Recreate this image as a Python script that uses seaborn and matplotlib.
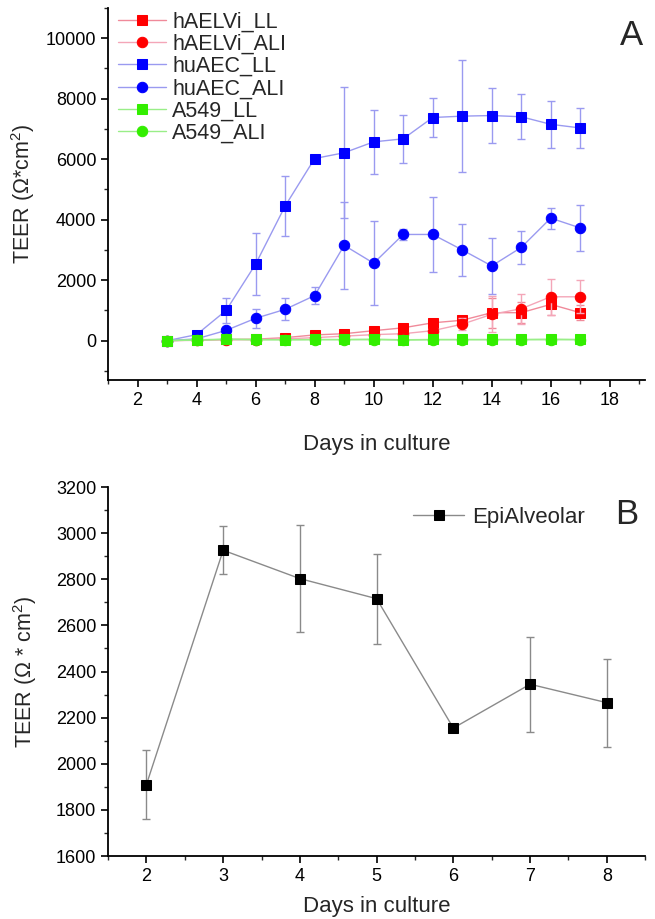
import numpy as np
import pandas as pd
import matplotlib
matplotlib.use("Agg")
import matplotlib.pyplot as plt
import seaborn as sns
from matplotlib.ticker import MultipleLocator

# Panel A data (days 3..17)
days_a = list(range(3, 18))
haelvi_ll = [0, 20, 40, 50, 100, 190, 230, 330, 425, 590, 675, 925, 925, 1200, 925]
haelvi_ll_err = [0, 20, 30, 30, 40, 50, 60, 60, 80, 100, 150, 500, 350, 350, 250]
haelvi_ali = [0, 10, 30, 30, 60, 100, 150, 200, 230, 330, 545, 870, 1055, 1450, 1450]
haelvi_ali_err = [0, 10, 20, 20, 30, 40, 50, 60, 70, 100, 200, 600, 500, 600, 540]
huaec_ll = [0, 200, 1000, 2530, 4450, 6020, 6210, 6570, 6670, 7375, 7420, 7440, 7400, 7150, 7030]
huaec_ll_err = [0, 50, 400, 1030, 1000, 100, 2160, 1050, 800, 660, 1850, 900, 750, 770, 650]
huaec_ali = [0, 60, 340, 740, 1035, 1490, 3150, 2560, 3510, 3510, 3000, 2470, 3080, 4050, 3725]
huaec_ali_err = [0, 30, 100, 310, 360, 280, 1430, 1390, 190, 1230, 870, 920, 550, 345, 760]
a549_ll = [0, 30, 50, 40, 30, 40, 40, 50, 30, 40, 40, 40, 40, 50, 40]
a549_ll_err = [0, 10, 10, 10, 10, 10, 10, 10, 10, 10, 10, 10, 10, 10, 10]
a549_ali = [0, 20, 40, 30, 30, 30, 30, 30, 20, 30, 30, 30, 30, 30, 30]
a549_ali_err = [0, 10, 10, 10, 10, 10, 10, 10, 10, 10, 10, 10, 10, 10, 10]

# Panel B data
days_b = [2, 3, 4, 5, 6, 7, 8]
epi = [1910, 2926, 2803, 2716, 2155, 2345, 2265]
epi_err = [150, 105, 233, 195, 10, 205, 190]

sns.set_style("ticks")
plt.rcParams['font.family'] = ['Liberation Sans', 'DejaVu Sans']
plt.rcParams['mathtext.fontset'] = 'custom'
plt.rcParams['mathtext.rm'] = 'Liberation Sans'
plt.rcParams['mathtext.it'] = 'Liberation Sans'

fig = plt.figure(figsize=(6.55, 9.19), dpi=100)
ax1 = fig.add_axes([0.165, 0.5865, 0.82, 0.405])
ax2 = fig.add_axes([0.165, 0.0685, 0.82, 0.4015])

series = [
    ("hAELVi_LL", haelvi_ll, haelvi_ll_err, "s", "#ff0000", "#f08a9a"),
    ("hAELVi_ALI", haelvi_ali, haelvi_ali_err, "o", "#ff0000", "#f4a6b8"),
    ("huAEC_LL", huaec_ll, huaec_ll_err, "s", "#0000ff", "#9a9af0"),
    ("huAEC_ALI", huaec_ali, huaec_ali_err, "o", "#0000ff", "#9a9af0"),
    ("A549_LL", a549_ll, a549_ll_err, "s", "#33ee00", "#99ee88"),
    ("A549_ALI", a549_ali, a549_ali_err, "o", "#33ee00", "#99ee88"),
]

for name, vals, errs, mk, mc, lc in series:
    df = pd.DataFrame({"day": days_a, "teer": vals})
    ax1.errorbar(days_a, vals, yerr=errs, fmt="none", ecolor=lc, elinewidth=1.0,
                 capsize=3, capthick=1.0)
    sns.lineplot(data=df, x="day", y="teer", ax=ax1, color=lc, lw=1.0, marker=mk,
                 markersize=7 if mk == "s" else 7.5, markerfacecolor=mc,
                 markeredgecolor=mc, label=name)

ax1.set_xlim(1, 19.2)
ax1.set_ylim(-1300, 11000)
ax1.xaxis.set_major_locator(MultipleLocator(2))
ax1.xaxis.set_minor_locator(MultipleLocator(1))
ax1.yaxis.set_major_locator(MultipleLocator(2000))
ax1.yaxis.set_minor_locator(MultipleLocator(1000))
ax1.set_xlabel("Days in culture", fontsize=16, labelpad=18)
ax1.set_ylabel(r"TEER ($\Omega$*cm$^2$)", fontsize=15.5, labelpad=6)
ax1.legend(loc="upper left", bbox_to_anchor=(-0.005, 1.025), frameon=False, fontsize=15.5,
           handlelength=2.2, labelspacing=0.06, handletextpad=0.3, borderaxespad=0.2)
ax1.text(0.975, 0.925, "A", transform=ax1.transAxes, fontsize=25, ha="center", va="center")

df_b = pd.DataFrame({"day": days_b, "teer": epi})
ax2.errorbar(days_b, epi, yerr=epi_err, fmt="none", ecolor="#8a8a8a", elinewidth=1.0,
             capsize=3, capthick=1.0)
sns.lineplot(data=df_b, x="day", y="teer", ax=ax2, color="#8a8a8a", lw=1.0, marker="s",
             markersize=7, markerfacecolor="black", markeredgecolor="black",
             label="EpiAlveolar")
ax2.set_xlim(1.5, 8.5)
ax2.set_ylim(1600, 3200)
ax2.xaxis.set_major_locator(MultipleLocator(1))
ax2.xaxis.set_minor_locator(MultipleLocator(0.5))
ax2.yaxis.set_major_locator(MultipleLocator(200))
ax2.yaxis.set_minor_locator(MultipleLocator(100))
ax2.set_xlabel("Days in culture", fontsize=16, labelpad=8)
ax2.set_ylabel(r"TEER ($\Omega$ * cm$^2$)", fontsize=15.5, labelpad=12)
ax2.legend(loc="upper right", bbox_to_anchor=(0.925, 1.0), frameon=False, fontsize=16,
           handlelength=2.3, handletextpad=0.35)
ax2.text(0.965, 0.925, "B", transform=ax2.transAxes, fontsize=25, ha="center", va="center")

for ax in (ax1, ax2):
    sns.despine(ax=ax)
    ax.tick_params(which="major", direction="out", length=5, width=1.2, labelsize=13,
                   colors="black")
    ax.tick_params(which="minor", direction="out", length=3, width=1.0)
    for sp in ("left", "bottom"):
        ax.spines[sp].set_linewidth(1.3)
        ax.spines[sp].set_color("black")

fig.savefig("out.png", dpi=100, facecolor="white")
